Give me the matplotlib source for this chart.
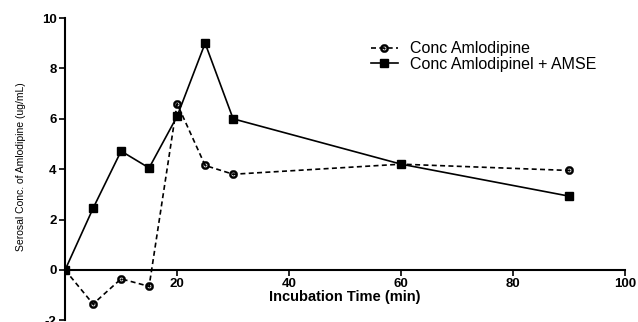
#!/usr/bin/env python3
"""
Serosal concentration of amlodipine vs incubation time.
"""
import numpy as np
import matplotlib
matplotlib.use('Agg')
from matplotlib import pyplot as plt
from matplotlib.path import Path

time_min = [0, 5, 10, 15, 20, 25, 30, 60, 90]
conc_amlo = [0, -1.35, -0.35, -0.65, 6.6, 4.15, 3.8, 4.2, 3.95]
conc_amlo_amse = [0, 2.45, 4.72, 4.05, 6.1, 9.0, 6.0, 4.2, 2.93]

x_ticks = [0, 20, 40, 60, 80, 100]
x_tick_labels = ['', '20', '40', '60', '80', '100']
y_ticks = [-2, 0, 2, 4, 6, 8, 10]


def ring_dot_marker():
    # open circle with a small dot in the middle (ring + dot as one path)
    t = np.linspace(0, 2 * np.pi, 48)
    outer = np.column_stack([np.cos(t), np.sin(t)])
    inner = np.column_stack([np.cos(t[::-1]), np.sin(t[::-1])]) * 0.5
    dot = np.column_stack([np.cos(t), np.sin(t)]) * 0.2
    verts, codes = [], []
    for ring in (outer, inner, dot):
        verts.extend(ring)
        codes.extend([Path.MOVETO] + [Path.LINETO] * (len(ring) - 2) + [Path.CLOSEPOLY])
    return Path(verts, codes)


plt.rcParams['font.family'] = ['Liberation Sans', 'DejaVu Sans']

fig = plt.figure(figsize=(6.38, 3.22), dpi=100)
ax = fig.add_axes([0.102, 0.005, 0.878, 0.939])

ax.plot(time_min, conc_amlo, color='black', lw=1.2, ls=(0, (3, 2)),
        marker=ring_dot_marker(), ms=6, mfc='black', mec='black', mew=0.3,
        label='Conc Amlodipine')
ax.plot(time_min, conc_amlo_amse, color='black', lw=1.2, ls='-',
        marker='s', ms=5.5, mfc='black', mec='black',
        label='Conc Amlodipinel + AMSE')

ax.set_xlim(0, 100)
ax.set_ylim(-2, 10)
ax.spines['top'].set_visible(False)
ax.spines['right'].set_visible(False)
ax.spines['bottom'].set_position(('data', 0))
ax.spines['left'].set_linewidth(1.5)
ax.spines['bottom'].set_linewidth(1.5)

ax.set_xticks(x_ticks)
ax.set_xticklabels(x_tick_labels, fontsize=9.5, fontweight='bold')
ax.set_yticks(y_ticks)
ax.set_yticklabels([str(v) for v in y_ticks], fontsize=9.5, fontweight='bold')
ax.tick_params(direction='out', length=4, width=1.2, pad=2)

ax.text(50, -1.08, 'Incubation Time (min)', ha='center', va='center',
        fontsize=10.5, fontweight='bold')
ax.set_ylabel('Serosal Conc. of Amlodipine (ug/mL)',
              family=['Liberation Sans Narrow', 'Liberation Sans'], fontsize=7.5)
ax.yaxis.set_label_coords(-0.07, 0.51)

ax.legend(loc='upper left', bbox_to_anchor=(0.531, 0.95), frameon=False,
          fontsize=11.5, handlelength=1.7, handletextpad=0.8,
          labelspacing=0.05, borderpad=0)

fig.savefig('out.png', dpi=100)
